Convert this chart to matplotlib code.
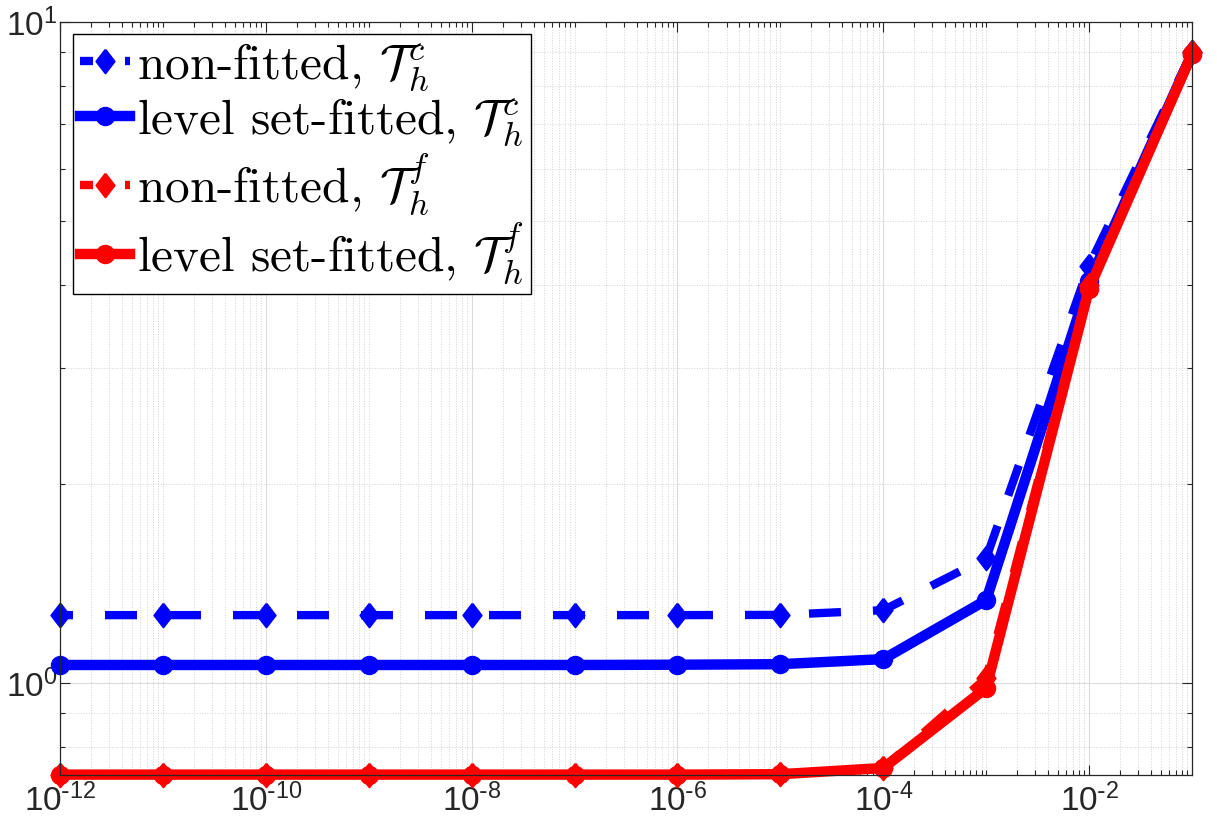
import matplotlib
matplotlib.use("Agg")
import matplotlib.pyplot as plt
from matplotlib.ticker import FixedLocator, NullFormatter, FuncFormatter
import numpy as np

plt.rcParams['font.family'] = ['Liberation Sans', 'DejaVu Sans']
plt.rcParams['mathtext.fontset'] = 'cm'

# data
x = [1e-12, 1e-11, 1e-10, 1e-9, 1e-8, 1e-7, 1e-6, 1e-5, 1e-4, 1e-3, 1e-2, 1e-1]
nonfit_c = [1.267, 1.267, 1.267, 1.267, 1.267, 1.267, 1.267, 1.268, 1.289, 1.546, 4.28, 9.0]
lsfit_c = [1.065, 1.065, 1.065, 1.065, 1.065, 1.065, 1.066, 1.068, 1.087, 1.335, 4.05, 8.95]
nonfit_f = [0.727, 0.727, 0.727, 0.727, 0.727, 0.727, 0.727, 0.728, 0.744, 1.018, 4.0, 9.0]
lsfit_f = [0.727, 0.727, 0.727, 0.727, 0.727, 0.727, 0.727, 0.728, 0.744, 0.983, 3.95, 8.95]

labels = [r'non-fitted, $\mathcal{T}_h^c$',
          r'level set-fitted, $\mathcal{T}_h^c$',
          r'non-fitted, $\mathcal{T}_h^f$',
          r'level set-fitted, $\mathcal{T}_h^f$']

xmajor = [1e-12, 1e-10, 1e-8, 1e-6, 1e-4, 1e-2]
ymajor = [1.0, 10.0]

diamond = [(0, 1), (0.77, 0), (0, -1), (-0.77, 0), (0, 1)]
dash = (2.28, (3.84, 3.84))


def pow10(v, pos):
    # matlab style label, short hyphen in the exponent
    e = int(round(np.log10(v)))
    if e < 0:
        return r'$\mathdefault{10^{\text{-}%d}}$' % (-e)
    return r'$\mathdefault{10^{%d}}$' % e


fig = plt.figure(figsize=(12.17, 8.32), dpi=100)
ax = fig.add_axes([0.0493, 0.0685, 0.9302, 0.9051])

ax.plot(x, nonfit_c, color='blue', lw=6, linestyle=dash, marker=diamond,
        ms=17, mew=1.5, clip_on=False, label=labels[0])
ax.plot(x, lsfit_c, color='blue', lw=7.5, marker='o', ms=13, mew=1,
        clip_on=False, label=labels[1])
ax.plot(x, nonfit_f, color='red', lw=6, linestyle=dash, marker=diamond,
        ms=17, mew=1.5, clip_on=False, label=labels[2])
ax.plot(x, lsfit_f, color='red', lw=7.5, marker='o', ms=13, mew=1,
        clip_on=False, label=labels[3])

ax.set_xscale('log')
ax.set_yscale('log')
ax.set_xlim(1e-12, 1e-1)
ax.set_ylim(0.726, 10)

# ticks like matlab
xminor = [k * 10.0 ** e for e in range(-12, -1) for k in range(1, 10)
          if not (k == 1 and 10.0 ** e in xmajor)]
yminor = [0.8, 0.9, 2, 3, 4, 5, 6, 7, 8, 9]
ax.xaxis.set_major_locator(FixedLocator(xmajor))
ax.xaxis.set_minor_locator(FixedLocator(xminor))
ax.yaxis.set_major_locator(FixedLocator(ymajor))
ax.yaxis.set_minor_locator(FixedLocator(yminor))
ax.xaxis.set_major_formatter(FuncFormatter(pow10))
ax.yaxis.set_major_formatter(FuncFormatter(pow10))
ax.xaxis.set_minor_formatter(NullFormatter())
ax.yaxis.set_minor_formatter(NullFormatter())

ax.tick_params(which='both', direction='in', top=True, right=True,
               labelsize=24, colors='#262626')
ax.tick_params(which='major', length=7, width=0.8)
ax.tick_params(axis='x', which='major', pad=6)
ax.tick_params(axis='y', which='major', pad=2)
ax.tick_params(which='minor', length=3.7, width=0.8)
for s in ax.spines.values():
    s.set_color('#262626')
    s.set_linewidth(0.9)

ax.grid(True, which='major', color='#dcdcdc', lw=0.8, ls='-')
ax.grid(True, which='minor', color='#d4d4d4', lw=0.7, ls=':')
ax.set_axisbelow(True)

leg = ax.legend(loc='upper left', bbox_to_anchor=(0.0115, 0.984), borderaxespad=0,
                prop={'family': ['cmr10', 'DejaVu Serif'], 'size': 35.5},
                fancybox=False, framealpha=1, edgecolor='black',
                handlelength=1.0, handletextpad=0.15, borderpad=0.15,
                labelspacing=0.05)
leg.get_frame().set_linewidth(1.0)

fig.savefig('out.png', dpi=100)
